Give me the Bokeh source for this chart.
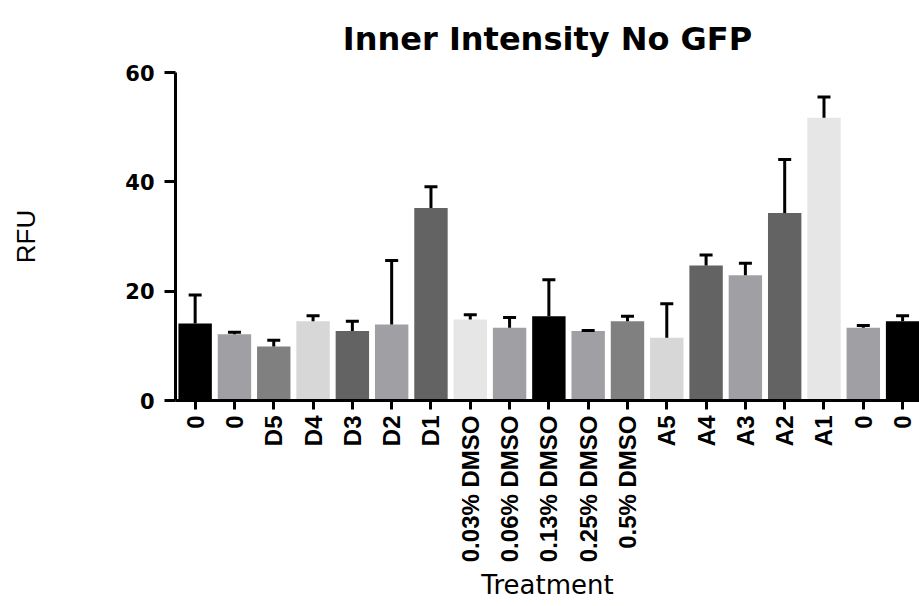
import math
from bokeh.plotting import figure
from bokeh.models import Range1d, FixedTicker, ColumnDataSource
from bokeh.embed import file_html
from bokeh.resources import INLINE

# ---- data ----
labels = ["0", "0", "D5", "D4", "D3", "D2", "D1",
          "0.03% DMSO", "0.06% DMSO", "0.13% DMSO", "0.25% DMSO", "0.5% DMSO",
          "A5", "A4", "A3", "A2", "A1", "0", "0"]
means = [14.1, 12.1, 9.9, 14.5, 12.7, 13.9, 35.2,
         14.8, 13.3, 15.4, 12.7, 14.5,
         11.5, 24.7, 22.9, 34.3, 51.7, 13.3, 14.5]
sds = [5.2, 0.4, 1.1, 1.0, 1.8, 11.7, 3.9,
       0.9, 1.9, 6.7, 0.1, 0.9,
       6.2, 1.9, 2.2, 9.8, 3.8, 0.4, 1.0]
y_ticks = [0, 20, 40, 60]

# ---- style ----
bar_colors = ["#000000", "#a0a0a4", "#808080", "#d7d7d7", "#636363",
              "#a0a0a4", "#636363", "#e6e6e6", "#a0a0a4",
              "#000000", "#a0a0a4", "#808080", "#d7d7d7", "#636363",
              "#a0a0a4", "#636363", "#e6e6e6", "#a0a0a4", "#000000"]

xs = [i + 0.5 for i in range(len(labels))]
src = ColumnDataSource(dict(
    x=xs, top=means,
    upper=[m + s for m, s in zip(means, sds)],
    color=bar_colors,
))

p = figure(width=919, height=606, output_backend="svg", toolbar_location=None,
           x_range=Range1d(0, 18.93), y_range=Range1d(0, 60),
           min_border_left=175, min_border_right=0,
           min_border_top=72, min_border_bottom=206)

p.vbar(x="x", top="top", bottom=0, width=0.85, fill_color="color",
       line_color=None, source=src)
p.segment(x0="x", y0="top", x1="x", y1="upper", line_width=3,
          line_color="black", source=src)
p.scatter(x="x", y="upper", marker="dash", size=13, line_width=3,
          line_color="black", source=src)

# title
p.title.text = "Inner Intensity No GFP"
p.title.text_font = "DejaVu Sans"
p.title.text_font_size = "32px"
p.title.text_font_style = "bold"
p.title.text_color = "black"
p.title.align = "center"
p.title.standoff = 30

# grids / outline
p.xgrid.visible = False
p.ygrid.visible = False
p.outline_line_color = None

# x axis
xa = p.below[0]
xa.ticker = FixedTicker(ticks=xs)
xa.major_label_overrides = {x: lab for x, lab in zip(xs, labels)}
xa.major_label_orientation = math.pi / 2
xa.major_label_text_font = "Liberation Sans"
xa.major_label_text_font_size = "24px"
xa.major_label_text_font_style = "bold"
xa.major_label_text_color = "black"
xa.major_label_standoff = 6
xa.axis_line_width = 3
xa.axis_line_color = "black"
xa.major_tick_line_width = 3
xa.major_tick_line_color = "black"
xa.major_tick_out = 9
xa.major_tick_in = 0
xa.minor_tick_line_color = None
xa.axis_label = "Treatment"
xa.axis_label_text_font = "DejaVu Sans"
xa.axis_label_text_font_size = "26px"
xa.axis_label_text_font_style = "normal"
xa.axis_label_text_color = "black"
xa.axis_label_standoff = 5

# y axis
ya = p.left[0]
ya.ticker = FixedTicker(ticks=y_ticks)
ya.major_label_text_font = "DejaVu Sans"
ya.major_label_text_font_size = "21px"
ya.major_label_text_font_style = "bold"
ya.major_label_text_color = "black"
ya.major_label_standoff = 10
ya.axis_line_width = 3
ya.axis_line_color = "black"
ya.major_tick_line_width = 3
ya.major_tick_line_color = "black"
ya.major_tick_out = 11
ya.major_tick_in = 0
ya.minor_tick_line_color = None
ya.axis_label = "RFU"
ya.axis_label_text_font = "Liberation Sans"
ya.axis_label_text_font_size = "26px"
ya.axis_label_text_font_style = "normal"
ya.axis_label_text_color = "black"
ya.axis_label_standoff = 81

open("out.html", "w").write(file_html(p, INLINE))
